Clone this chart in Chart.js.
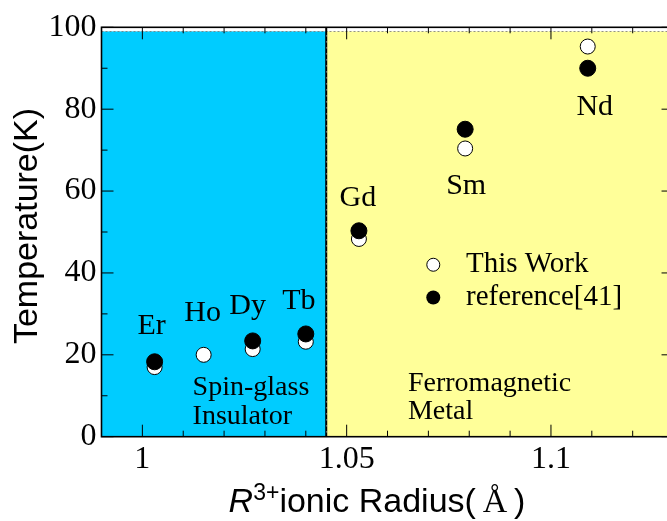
<!DOCTYPE html>
<html>
<head>
<meta charset="utf-8">
<script src="https://cdn.jsdelivr.net/npm/chart.js@4.4.0/dist/chart.umd.min.js"></script>
<style>
html, body { margin: 0; padding: 0; background: #fff; overflow: hidden; }
#c { display: block; }
</style>
</head>
<body>
<canvas id="c" width="667" height="521" style="width:667px;height:521px"></canvas>
<script>
/* global Chart */

// rare earth R3+ ionic radius (A) vs transition temperature (K)
const elements = ['Er', 'Ho', 'Dy', 'Tb', 'Gd', 'Sm', 'Nd'];
const radius = [1.003, 1.015, 1.027, 1.040, 1.053, 1.079, 1.109];
const thisWork = [17.0, 20.0, 21.4, 23.2, 48.3, 70.4, 95.3];
const reference41 = [18.3, null, 23.4, 25.1, 50.3, 75.1, 90.0];
const xTicks = [1, 1.05, 1.1];
const yTicks = [0, 20, 40, 60, 80, 100];
const boundary = 1.045;
const xFrameEnd = 1.13; // right axis sits just past the picture edge

const serif = '"Liberation Serif", "Times New Roman", serif';
const sans = '"Liberation Sans", Arial, sans-serif';

// label offsets (px) from the "This Work" marker
const labelShift = [[-3, -41], [-1, -42], [-5, -43], [-7, -41], [-1, -41], [1, 38], [7, 61]];

const toPoints = (ys) => radius.map((x, i) => ({ x, y: ys[i] })).filter((p) => p.y !== null);

const decor = {
  id: 'decor',
  beforeDatasetsDraw(chart) {
    const { ctx, chartArea: a, scales: { x, y } } = chart;
    const xb = x.getPixelForValue(boundary);
    const xr = x.getPixelForValue(xFrameEnd);
    const yt = y.getPixelForValue(99);
    ctx.save();
    ctx.fillStyle = '#00ccff';
    ctx.fillRect(a.left, yt, xb - a.left, a.bottom - yt);
    ctx.fillStyle = '#ffff99';
    ctx.fillRect(xb, yt, xr - xb, a.bottom - yt);
    // dashed top edge of the shading
    ctx.strokeStyle = '#777';
    ctx.lineWidth = 0.8;
    ctx.setLineDash([2, 2]);
    ctx.beginPath();
    ctx.moveTo(a.left, yt);
    ctx.lineTo(xr, yt);
    ctx.stroke();
    // boundary line
    ctx.setLineDash([]);
    ctx.strokeStyle = '#000';
    ctx.lineWidth = 2;
    ctx.beginPath();
    ctx.moveTo(xb, a.top);
    ctx.lineTo(xb, a.bottom);
    ctx.stroke();
    ctx.strokeStyle = '#fff';
    ctx.lineWidth = 0.8;
    ctx.setLineDash([1, 5]);
    ctx.beginPath();
    ctx.moveTo(xb + 0.5, yt + 4);
    ctx.lineTo(xb + 0.5, a.bottom);
    ctx.stroke();
    ctx.setLineDash([]);

    // inward ticks on all sides
    ctx.strokeStyle = '#000';
    ctx.lineWidth = 1;
    ctx.beginPath();
    for (let v = 100; v <= 112; v++) {
      const px = x.getPixelForValue(v / 100);
      const len = v % 5 === 0 ? 12 : 6;
      ctx.moveTo(px, a.bottom);
      ctx.lineTo(px, a.bottom - len);
      ctx.moveTo(px, a.top);
      ctx.lineTo(px, a.top + len);
    }
    for (let v = 0; v <= 100; v += 10) {
      const py = y.getPixelForValue(v);
      const len = v % 20 === 0 ? 12 : 6;
      ctx.moveTo(a.left, py);
      ctx.lineTo(a.left + len, py);
      ctx.moveTo(xr, py);
      ctx.lineTo(xr - len, py);
    }
    ctx.stroke();
    ctx.lineWidth = 1.6;
    ctx.strokeRect(a.left, a.top, xr - a.left, a.bottom - a.top);
    ctx.restore();
  },
  afterDatasetsDraw(chart) {
    const { ctx, scales: { x, y } } = chart;
    ctx.save();
    ctx.fillStyle = '#000';
    ctx.textAlign = 'center';
    ctx.textBaseline = 'middle';
    ctx.font = '30px ' + serif;
    elements.forEach((el, i) => {
      const px = x.getPixelForValue(radius[i]) + labelShift[i][0];
      const py = y.getPixelForValue(thisWork[i]) + labelShift[i][1];
      ctx.fillText(el, px, py);
    });

    // region names
    ctx.textAlign = 'left';
    ctx.font = '28px ' + serif;
    ctx.fillText('Spin-glass', x.getPixelForValue(1.0123), y.getPixelForValue(11.9));
    ctx.fillText('Insulator', x.getPixelForValue(1.0123), y.getPixelForValue(4.9));
    ctx.fillText('Ferromagnetic', x.getPixelForValue(1.065), y.getPixelForValue(12.9));
    ctx.fillText('Metal', x.getPixelForValue(1.065), y.getPixelForValue(6.0));

    // legend
    const lx = x.getPixelForValue(1.0712);
    const tx = x.getPixelForValue(1.0792);
    const l1 = y.getPixelForValue(42);
    const l2 = y.getPixelForValue(34);
    ctx.lineWidth = 1;
    ctx.strokeStyle = '#000';
    ctx.fillStyle = '#fff';
    ctx.beginPath();
    ctx.arc(lx, l1, 6.5, 0, Math.PI * 2);
    ctx.fill();
    ctx.stroke();
    ctx.fillStyle = '#000';
    ctx.beginPath();
    ctx.arc(lx, l2, 7, 0, Math.PI * 2);
    ctx.fill();
    ctx.font = '29px ' + serif;
    ctx.fillText('This Work', tx, l1);
    ctx.fillText('reference[41]', tx, l2);

    // axis titles
    ctx.save();
    ctx.translate(28, 226);
    ctx.rotate(-Math.PI / 2);
    ctx.textAlign = 'center';
    ctx.font = '34px ' + sans;
    ctx.fillText('Temperature(K)', 0, 0);
    ctx.restore();

    const parts = [
      ['R', 'italic 34px ' + sans, 0],
      ['3+', '23px ' + sans, -12],
      ['ionic Radius(', '34px ' + sans, 0],
      ['\u2009Å\u2009', '34px ' + serif, 0],
      [')', '34px ' + sans, 0],
    ];
    let total = 0;
    parts.forEach((p) => { ctx.font = p[1]; total += ctx.measureText(p[0]).width; });
    let cx = 377 - total / 2;
    ctx.textBaseline = 'alphabetic';
    parts.forEach((p) => {
      ctx.font = p[1];
      ctx.fillText(p[0], cx, 512 + p[2]);
      cx += ctx.measureText(p[0]).width;
    });
    ctx.restore();
  },
};

const chart = new Chart(document.getElementById('c'), {
  type: 'scatter',
  data: {
    datasets: [
      {
        label: 'reference[41]',
        data: toPoints(reference41),
        pointRadius: 8,
        pointHoverRadius: 8,
        backgroundColor: '#000',
        borderColor: '#000',
        borderWidth: 1,
      },
      {
        label: 'This Work',
        data: toPoints(thisWork),
        pointRadius: 7.5,
        pointHoverRadius: 7.5,
        backgroundColor: '#fff',
        borderColor: '#000',
        borderWidth: 1,
      },
    ],
  },
  options: {
    responsive: false,
    animation: false,
    events: [],
    clip: false,
    layout: { autoPadding: false, padding: { top: 27.3, right: 0, left: 0, bottom: 0 } },
    plugins: { legend: { display: false }, tooltip: { enabled: false } },
    scales: {
      x: {
        type: 'linear',
        min: 0.99,
        max: 1.1284,
        grid: { display: false, drawTicks: false },
        border: { display: false },
        afterBuildTicks: (s) => { s.ticks = xTicks.map((v) => ({ value: v })); },
        afterFit: (s) => { s.height = 84.3; },
        ticks: {
          color: '#000',
          padding: 4,
          font: { family: serif, size: 32 },
          callback: (v) => String(v),
        },
      },
      y: {
        min: 0,
        max: 100,
        grid: { display: false, drawTicks: false },
        border: { display: false },
        afterBuildTicks: (s) => { s.ticks = yTicks.map((v) => ({ value: v })); },
        afterFit: (s) => { s.width = 101.5; },
        ticks: {
          color: '#000',
          padding: 5,
          font: { family: serif, size: 32 },
        },
      },
    },
  },
  plugins: [decor],
});
</script>
</body>
</html>
